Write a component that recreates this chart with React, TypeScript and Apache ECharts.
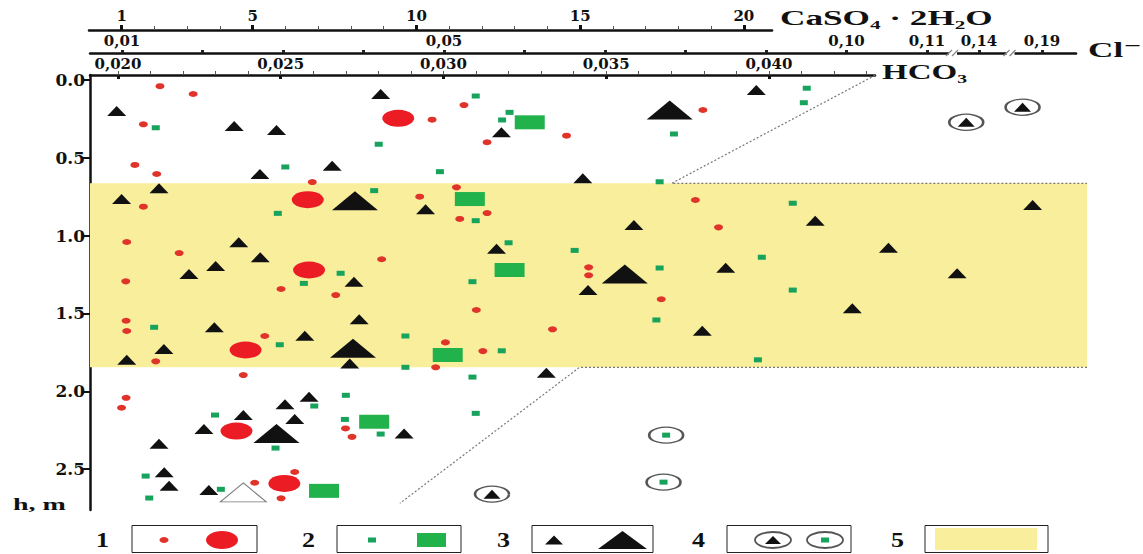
import React, { useEffect, useRef } from 'react';
import * as echarts from 'echarts';

// ---------- scales ----------
// main field: x in HCO3 units (shared with the upper HCO3 axis), y = depth h, m
const X_MIN = 0.01914;
const X_MAX = 0.04977;
const HCO3_MAX = 0.04326;
const H_MIN = -0.032;
const H_MAX = 2.763;
const GYPSUM_MIN = 0;
const GYPSUM_MAX = 20.86;
const CL_MIN = 0.00602;
const CL_MAX = 0.12851;

// ---------- tick values / labels ----------
const depthTicks = [0, 0.5, 1.0, 1.5, 2.0, 2.5];
const hco3Major = [0.02, 0.025, 0.03, 0.035, 0.04];
const hco3Minor = [
  0.02, 0.021, 0.022, 0.023, 0.024, 0.025, 0.026, 0.027, 0.028, 0.029, 0.03, 0.031,
  0.032, 0.033, 0.034, 0.035, 0.036, 0.037, 0.038, 0.039, 0.04, 0.041, 0.042, 0.043,
];
const gypsumMajor = [1, 5, 10, 15, 20];
const gypsumMinor = [2, 3, 4, 5, 6, 7, 8, 9, 10, 11, 12, 13, 14, 15, 16, 17, 18, 19, 20];
const clTicks = [0.01, 0.02, 0.03, 0.04, 0.05, 0.06, 0.07, 0.08, 0.09, 0.1, 0.11, 0.14, 0.19];
const clLabels = [0.01, 0.05, 0.1, 0.11, 0.14, 0.19];
const clBreaks = [
  { start: 0.111, end: 0.139, gap: 0.00446 },
  { start: 0.141, end: 0.189, gap: 0.00583 },
];

// ---------- zone (5) ----------
const zoneTop = 0.664;
const zoneBottom = 1.846;
const upperBoundary = [[0.04326, -0.03], [0.03701, 0.664], [0.04977, 0.664]];
const lowerBoundary = [[0.04977, 1.846], [0.03418, 1.846], [0.02866, 2.72]];

// ---------- series values [HCO3, h] ----------
const redSmall = [
  [0.02129, 0.04], [0.02231, 0.09], [0.02078, 0.285], [0.02965, 0.255], [0.03063, 0.161],
  [0.03134, 0.4], [0.03378, 0.358], [0.02052, 0.546], [0.02119, 0.604], [0.02597, 0.656],
  [0.0304, 0.69], [0.02927, 0.75], [0.02078, 0.814], [0.0305, 0.893], [0.03134, 0.855],
  [0.02027, 1.041], [0.02188, 1.112], [0.0281, 1.152], [0.02024, 1.294], [0.02501, 1.343],
  [0.02669, 1.382], [0.03797, 0.193], [0.03774, 0.771], [0.03845, 0.947], [0.03446, 1.204],
  [0.03446, 1.255], [0.03669, 1.409], [0.02025, 1.547], [0.02027, 1.613], [0.02451, 1.645],
  [0.03101, 1.478], [0.03006, 1.686], [0.03121, 1.742], [0.03335, 1.602], [0.02116, 1.808],
  [0.02976, 1.846], [0.02385, 1.896], [0.02025, 2.042], [0.02011, 2.106], [0.02699, 2.239],
  [0.02719, 2.293], [0.02543, 2.519], [0.0242, 2.588], [0.02501, 2.688],
];
const redLarge = [
  [0.02861, 0.246], [0.02583, 0.769], [0.02587, 1.221], [0.02392, 1.735], [0.02364, 2.256], [0.02511, 2.592],
];
const greenSmall = [
  [0.03099, 0.103], [0.03203, 0.208], [0.0318, 0.257], [0.02116, 0.307], [0.02801, 0.413],
  [0.02514, 0.559], [0.02989, 0.589], [0.02787, 0.711], [0.02491, 0.857], [0.03099, 0.904],
  [0.032, 1.046], [0.03403, 1.095], [0.02684, 1.242], [0.02571, 1.307], [0.03089, 1.296],
  [0.04116, 0.053], [0.04107, 0.146], [0.03708, 0.347], [0.03664, 0.654], [0.04073, 0.792],
  [0.03978, 1.139], [0.03664, 1.208], [0.04073, 1.35], [0.03654, 1.542], [0.03966, 1.798],
  [0.02111, 1.589], [0.02497, 1.701], [0.02883, 1.645], [0.03179, 1.74], [0.02883, 1.846],
  [0.03089, 1.909], [0.027, 2.026], [0.02603, 2.095], [0.02298, 2.153], [0.02697, 2.181],
  [0.02807, 2.275], [0.02484, 2.365], [0.03099, 2.142], [0.02085, 2.545], [0.02316, 2.63],
  [0.02096, 2.686],
];
const greenLarge = [
  [0.03265, 0.272], [0.03081, 0.765], [0.03203, 1.221], [0.03013, 1.767], [0.02787, 2.196], [0.02633, 2.64],
];
const triSmall = [
  [0.01996, 0.199], [0.02807, 0.09], [0.02357, 0.296], [0.02487, 0.321], [0.03178, 0.336],
  [0.02658, 0.551], [0.02436, 0.604], [0.03428, 0.632], [0.02126, 0.696], [0.02011, 0.765],
  [0.02945, 0.831], [0.02371, 1.043], [0.03163, 1.084], [0.02437, 1.139], [0.023, 1.195],
  [0.02218, 1.247], [0.02725, 1.296], [0.03961, 0.064], [0.0481, 0.803], [0.03585, 0.932],
  [0.04142, 0.904], [0.04367, 1.078], [0.03867, 1.206], [0.04578, 1.242], [0.03444, 1.35],
  [0.04256, 1.467], [0.03795, 1.611], [0.02296, 1.589], [0.02741, 1.538], [0.02574, 1.643],
  [0.02141, 1.729], [0.02027, 1.798], [0.02712, 1.821], [0.03316, 1.881], [0.02587, 2.035],
  [0.02513, 2.084], [0.02385, 2.153], [0.02543, 2.179], [0.02264, 2.243], [0.02879, 2.271],
  [0.02126, 2.337], [0.02142, 2.521], [0.02157, 2.607], [0.02279, 2.635],
];
const triLarge = [[0.02728, 0.776], [0.03695, 0.193], [0.03557, 1.247], [0.02722, 1.724], [0.02487, 2.271]];
const triHollow = [[0.02385, 2.65]];
const ringTri = [[0.04606, 0.272], [0.04779, 0.175], [0.03149, 2.661]];
const ringDot = [[0.03684, 2.282], [0.03676, 2.584]];

// ---------- styles ----------
const RED_S = '#E0342A';
const RED_L = '#EC1C24';
const GREEN_S = '#17A35B';
const GREEN_L = '#22B24C';
const BLACK = '#111111';
const YELLOW = '#F9EE9C';
const RING = '#555555';
const SERIF = '"Liberation Serif", "Times New Roman", "DejaVu Serif", serif';
const TICK_FONT = '"DejaVu Serif", serif';

function clPos(v: number) {
  let p = v;
  for (const b of clBreaks) {
    if (v >= b.end) p -= b.end - b.start - b.gap;
    else if (v > b.start) p -= (v - b.start) * (1 - b.gap / (b.end - b.start));
  }
  return p;
}
const comma = (v: number, d: number) => v.toFixed(d).replace('.', ',');

const tickLabel = (size: number) => ({
  fontFamily: TICK_FONT,
  fontWeight: 'bold' as const,
  fontSize: size,
  color: '#111',
});

const scatter = (name: string, data: number[][], symbol: string, size: number[], item: any, z = 3) => ({
  name,
  type: 'scatter',
  xAxisIndex: 0,
  yAxisIndex: 0,
  data,
  symbol,
  symbolSize: size,
  itemStyle: { opacity: 1, ...item },
  silent: true,
  z,
});

function buildOption(): any {
  const grids = [
    { left: 90, top: 75, width: 997, height: 435 },
    { left: 90, top: 75, width: 785, height: 2 },
    { left: 90, top: 53, width: 986, height: 2 },
    { left: 89, top: 30, width: 683, height: 2 },
  ].map((g) => ({ ...g, containLabel: false, outerBoundsMode: 'none' }));

  const noGrid = { show: false };
  const xAxis = [
    { gridIndex: 0, type: 'value', min: X_MIN, max: X_MAX, show: false },
    {
      gridIndex: 1, type: 'value', position: 'top', min: X_MIN, max: HCO3_MAX,
      axisLine: { show: true, onZero: false, lineStyle: { color: BLACK, width: 2.5 } },
      axisTick: { show: true, customValues: hco3Minor, length: 4, lineStyle: { color: '#555', width: 1 } },
      axisLabel: { show: false }, splitLine: noGrid,
    },
    {
      gridIndex: 1, type: 'value', position: 'top', min: X_MIN, max: HCO3_MAX,
      axisLine: { show: false, onZero: false },
      axisTick: { show: true, customValues: hco3Major, inside: true, length: 4, lineStyle: { color: BLACK, width: 3 } },
      axisLabel: { show: true, customValues: hco3Major, formatter: (v: number) => comma(v, 3), margin: 4, ...tickLabel(15) },
      splitLine: noGrid,
    },
    {
      gridIndex: 2, type: 'value', position: 'top', min: CL_MIN, max: CL_MAX,
      axisLine: { show: true, onZero: false, lineStyle: { color: BLACK, width: 2.5 } },
      axisTick: { show: true, customValues: clTicks.map(clPos), length: 3, lineStyle: { color: '#222', width: 3 } },
      axisLabel: {
        show: true,
        customValues: clLabels.map(clPos),
        formatter: (v: number) => {
          const t = clLabels.find((c) => Math.abs(clPos(c) - v) < 1e-6);
          return t === undefined ? '' : comma(t, 2);
        },
        margin: 5,
        ...tickLabel(15),
      },
      splitLine: noGrid,
    },
    {
      gridIndex: 3, type: 'value', position: 'top', min: GYPSUM_MIN, max: GYPSUM_MAX,
      axisLine: { show: true, onZero: false, lineStyle: { color: BLACK, width: 2.5 } },
      axisTick: { show: true, customValues: gypsumMinor, length: 4, lineStyle: { color: '#555', width: 1 } },
      axisLabel: { show: false }, splitLine: noGrid,
    },
    {
      gridIndex: 3, type: 'value', position: 'top', min: GYPSUM_MIN, max: GYPSUM_MAX,
      axisLine: { show: false, onZero: false },
      axisTick: { show: true, customValues: gypsumMajor, length: 5, lineStyle: { color: BLACK, width: 3 } },
      axisLabel: { show: true, customValues: gypsumMajor, formatter: (v: number) => String(v), margin: 7, ...tickLabel(15) },
      splitLine: noGrid,
    },
  ];

  const yAxis = [
    {
      gridIndex: 0, type: 'value', inverse: true, min: H_MIN, max: H_MAX,
      axisLine: { show: true, onZero: false, lineStyle: { color: BLACK, width: 2.5 } },
      axisTick: { show: true, customValues: depthTicks, length: 7, lineStyle: { color: BLACK, width: 2 } },
      axisLabel: { show: true, customValues: depthTicks, formatter: (v: number) => v.toFixed(1), margin: 5, ...tickLabel(17) },
      splitLine: noGrid,
    },
    { gridIndex: 1, type: 'value', show: false },
    { gridIndex: 2, type: 'value', show: false },
    { gridIndex: 3, type: 'value', show: false },
  ];

  const dotted = { color: '#777', width: 1.2, type: [2, 2] };
  const series: any[] = [
    {
      name: 'zone', type: 'line', xAxisIndex: 0, yAxisIndex: 0, data: [], silent: true, z: 1,
      markArea: {
        silent: true,
        itemStyle: { color: YELLOW, opacity: 1 },
        data: [[{ xAxis: X_MIN, yAxis: zoneTop }, { xAxis: X_MAX, yAxis: zoneBottom }]],
      },
    },
    { name: 'upper', type: 'line', xAxisIndex: 0, yAxisIndex: 0, data: upperBoundary, symbol: 'none', lineStyle: dotted, silent: true, z: 2 },
    { name: 'lower', type: 'line', xAxisIndex: 0, yAxisIndex: 0, data: lowerBoundary, symbol: 'none', lineStyle: dotted, silent: true, z: 2 },
    scatter('greenLarge', greenLarge, 'rect', [30, 14], { color: GREEN_L }),
    scatter('redLarge', redLarge, 'circle', [32, 17], { color: RED_L }),
    scatter('triLarge', triLarge, 'triangle', [46, 19], { color: BLACK }),
    scatter('triHollow', triHollow, 'triangle', [46, 19], { color: '#ffffff', borderColor: '#777', borderWidth: 1 }),
    scatter('redSmall', redSmall, 'circle', [9, 6], { color: RED_S }, 4),
    scatter('greenSmall', greenSmall, 'rect', [8, 5], { color: GREEN_S }, 4),
    scatter('triSmall', triSmall, 'triangle', [19, 10], { color: BLACK }, 4),
    scatter('ringTriRing', ringTri, 'circle', [34, 16], { color: '#ffffff', borderColor: RING, borderWidth: 1.8 }, 4),
    scatter('ringTriCore', ringTri, 'triangle', [17, 9], { color: BLACK }, 5),
    scatter('ringDotRing', ringDot, 'circle', [34, 16], { color: '#ffffff', borderColor: RING, borderWidth: 1.8 }, 4),
    scatter('ringDotCore', ringDot, 'rect', [8, 5], { color: GREEN_S }, 5),
  ];

  return {
    animation: false,
    backgroundColor: '#ffffff',
    grid: grids,
    xAxis,
    yAxis,
    series,
  };
}

const txt = (text: string, x: number, y: number, size: number, scaleX: number) => ({
  type: 'text',
  x,
  y,
  scaleX,
  z: 100,
  silent: true,
  style: {
    text,
    fontFamily: SERIF,
    fontWeight: 'bold',
    fontSize: size,
    fill: '#111',
    align: 'left',
    verticalAlign: 'middle',
    textAlign: 'left',
    textVerticalAlign: 'middle',
  },
});

function staticGraphics(): any[] {
  const box = (x: number, w: number) => ({
    type: 'rect', z: 100, silent: true,
    shape: { x, y: 525.5, width: w, height: 27 },
    style: { fill: '#fff', stroke: '#222', lineWidth: 1 },
  });
  const ell = (cx: number, rx: number, ry: number, style: any) => ({
    type: 'ellipse', z: 101, silent: true, shape: { cx, cy: 540, rx, ry }, style,
  });
  const rect = (x: number, y: number, w: number, h: number, fill: string) => ({
    type: 'rect', z: 102, silent: true, shape: { x, y, width: w, height: h }, style: { fill },
  });
  const tri = (cx: number, w: number, h: number) => ({
    type: 'polygon', z: 102, silent: true,
    shape: { points: [[cx - w / 2, 540 + h / 2], [cx + w / 2, 540 + h / 2], [cx, 540 - h / 2]] },
    style: { fill: BLACK },
  });
  return [
    txt('CaSO\u2084 \u00B7 2H\u2082O', 780, 18, 22, 1.6),
    txt('Cl\u207B', 1088, 50, 22, 1.6),
    txt('HCO\u2083', 882, 72, 22, 1.5),
    txt('h, m', 13, 505, 16, 1.75),
    txt('1', 96, 540, 20, 1.3),
    txt('2', 302, 540, 20, 1.3),
    txt('3', 497, 540, 20, 1.3),
    txt('4', 692, 540, 20, 1.3),
    txt('5', 891, 540, 20, 1.3),
    box(132, 125),
    ell(164, 4.5, 3, { fill: RED_S }),
    ell(222, 16, 9, { fill: RED_L }),
    box(337, 124),
    rect(368, 537.5, 8, 5, GREEN_S),
    rect(417, 533, 29, 14, GREEN_L),
    box(532, 121),
    tri(554, 18, 9),
    tri(622.5, 49, 18),
    box(727, 124),
    ell(773, 18, 8, { fill: '#fff', stroke: RING, lineWidth: 1.8 }),
    tri(773, 16, 8),
    ell(825, 18, 8, { fill: '#fff', stroke: RING, lineWidth: 1.8 }),
    rect(821, 537.5, 8, 5, GREEN_S),
    box(925, 123),
    rect(935, 528, 102, 22, YELLOW),
  ];
}

export default function App() {
  const ref = useRef<HTMLDivElement>(null);
  useEffect(() => {
    if (!ref.current) return;
    const chart = echarts.init(ref.current, null, { renderer: 'svg' });
    chart.setOption(buildOption());
    const clAxisY = 53;
    const breakEls: any[] = [];
    clBreaks.forEach((b) => {
      const px = chart.convertToPixel({ xAxisIndex: 3 } as any, clPos(b.start) + b.gap / 2) as unknown as number;
      if (typeof px !== 'number' || isNaN(px)) return;
      breakEls.push(
        { type: 'rect', z: 110, silent: true, shape: { x: px - 4, y: clAxisY - 2.5, width: 8, height: 5 }, style: { fill: '#fff' } },
        { type: 'line', z: 111, silent: true, shape: { x1: px - 7, y1: clAxisY + 3, x2: px - 1, y2: clAxisY - 3 }, style: { stroke: '#888', lineWidth: 1.3 } },
        { type: 'line', z: 111, silent: true, shape: { x1: px - 1, y1: clAxisY + 3, x2: px + 5, y2: clAxisY - 3 }, style: { stroke: '#888', lineWidth: 1.3 } },
      );
    });
    chart.setOption({ graphic: [...staticGraphics(), ...breakEls] });
    return () => chart.dispose();
  }, []);
  return <div ref={ref} style={{ position: 'fixed', left: 0, top: 0, width: 1143, height: 554 }} />;
}
